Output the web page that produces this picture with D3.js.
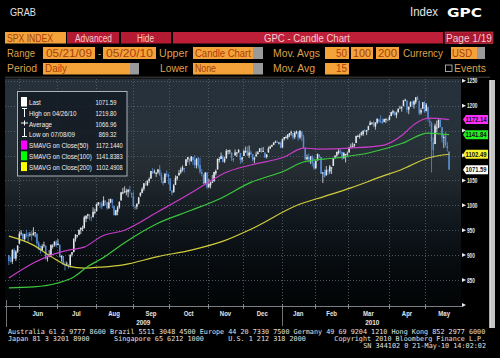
<!DOCTYPE html>
<html><head><meta charset="utf-8">
<script src="https://cdn.jsdelivr.net/npm/d3@7"></script>
<style>html,body{margin:0;padding:0;background:#000;}svg{display:block}</style>
</head><body>
<svg id="c" width="500" height="358"></svg>
<script>
// ---------------- DATA ----------------
const dates = [
"2009-05-21","2009-05-22","2009-05-26","2009-05-27","2009-05-28","2009-05-29",
"2009-06-01","2009-06-02","2009-06-03","2009-06-04","2009-06-05","2009-06-08","2009-06-09","2009-06-10","2009-06-11","2009-06-12","2009-06-15","2009-06-16","2009-06-17","2009-06-18","2009-06-19","2009-06-22","2009-06-23","2009-06-24","2009-06-25","2009-06-26","2009-06-29","2009-06-30",
"2009-07-01","2009-07-02","2009-07-06","2009-07-07","2009-07-08","2009-07-09","2009-07-10","2009-07-13","2009-07-14","2009-07-15","2009-07-16","2009-07-17","2009-07-20","2009-07-21","2009-07-22","2009-07-23","2009-07-24","2009-07-27","2009-07-28","2009-07-29","2009-07-30","2009-07-31",
"2009-08-03","2009-08-04","2009-08-05","2009-08-06","2009-08-07","2009-08-10","2009-08-11","2009-08-12","2009-08-13","2009-08-14","2009-08-17","2009-08-18","2009-08-19","2009-08-20","2009-08-21","2009-08-24","2009-08-25","2009-08-26","2009-08-27","2009-08-28","2009-08-31",
"2009-09-01","2009-09-02","2009-09-03","2009-09-04","2009-09-08","2009-09-09","2009-09-10","2009-09-11","2009-09-14","2009-09-15","2009-09-16","2009-09-17","2009-09-18","2009-09-21","2009-09-22","2009-09-23","2009-09-24","2009-09-25","2009-09-28","2009-09-29","2009-09-30",
"2009-10-01","2009-10-02","2009-10-05","2009-10-06","2009-10-07","2009-10-08","2009-10-09","2009-10-12","2009-10-13","2009-10-14","2009-10-15","2009-10-16","2009-10-19","2009-10-20","2009-10-21","2009-10-22","2009-10-23","2009-10-26","2009-10-27","2009-10-28","2009-10-29","2009-10-30",
"2009-11-02","2009-11-03","2009-11-04","2009-11-05","2009-11-06","2009-11-09","2009-11-10","2009-11-11","2009-11-12","2009-11-13","2009-11-16","2009-11-17","2009-11-18","2009-11-19","2009-11-20","2009-11-23","2009-11-24","2009-11-25","2009-11-27","2009-11-30",
"2009-12-01","2009-12-02","2009-12-03","2009-12-04","2009-12-07","2009-12-08","2009-12-09","2009-12-10","2009-12-11","2009-12-14","2009-12-15","2009-12-16","2009-12-17","2009-12-18","2009-12-21","2009-12-22","2009-12-23","2009-12-24","2009-12-28","2009-12-29","2009-12-30","2009-12-31",
"2010-01-04","2010-01-05","2010-01-06","2010-01-07","2010-01-08","2010-01-11","2010-01-12","2010-01-13","2010-01-14","2010-01-15","2010-01-19","2010-01-20","2010-01-21","2010-01-22","2010-01-25","2010-01-26","2010-01-27","2010-01-28","2010-01-29",
"2010-02-01","2010-02-02","2010-02-03","2010-02-04","2010-02-05","2010-02-08","2010-02-09","2010-02-10","2010-02-11","2010-02-12","2010-02-16","2010-02-17","2010-02-18","2010-02-19","2010-02-22","2010-02-23","2010-02-24","2010-02-25","2010-02-26",
"2010-03-01","2010-03-02","2010-03-03","2010-03-04","2010-03-05","2010-03-08","2010-03-09","2010-03-10","2010-03-11","2010-03-12","2010-03-15","2010-03-16","2010-03-17","2010-03-18","2010-03-19","2010-03-22","2010-03-23","2010-03-24","2010-03-25","2010-03-26","2010-03-29","2010-03-30","2010-03-31",
"2010-04-01","2010-04-05","2010-04-06","2010-04-07","2010-04-08","2010-04-09","2010-04-12","2010-04-13","2010-04-14","2010-04-15","2010-04-16","2010-04-19","2010-04-20","2010-04-21","2010-04-22","2010-04-23","2010-04-26","2010-04-27","2010-04-28","2010-04-29","2010-04-30",
"2010-05-03","2010-05-04","2010-05-05","2010-05-06","2010-05-07","2010-05-10","2010-05-11","2010-05-12","2010-05-13","2010-05-14","2010-05-17","2010-05-18","2010-05-19","2010-05-20"
];
const opens = [
900,889,887,910,893,907,923,943,943,932, 943,940,940,942,940,944,943,924,912,910,
920,919,894,896,900,918,920,927,920,921, 895,898,881,881,880,880,901,906,932,940,
941,951,953,954,973,979,981,977,976,986, 988,1002,1005,1003,999,1009,1006,994,1006,1012,
999,980,987,996,1010,1026,1026,1027,1027,1031, 1025,1019,997,997,1003,1019,1025,1033,1044,1040,
1049,1054,1067,1067,1065,1066,1072,1061,1049,1045, 1063,1061,1054,1029,1027,1041,1054,1060,1066,1071,
1075,1079,1092,1094,1089,1097,1091,1080,1096,1081, 1067,1061,1044,1066,1037,1040,1047,1048,1064,1072,
1093,1093,1098,1088,1094,1109,1109,1106,1094,1100, 1105,1106,1105,1092,1099,1109,1110,1100,1106,1103,
1092,1098,1103,1107,1115,1109,1106,1097,1106,1114, 1118,1121,1127,1128,1125,1126,1116,1133,1136,1136,
1141,1146,1145,1137,1146,1148,1136,1148,1138,1115, 1092,1096,1092,1098,1085,1074,1090,1101,1097,1065,
1066,1060,1070,1068,1075,1079,1096,1100,1105,1110, 1107,1095,1102,1104,1106,1116,1118,1120,1125,1139,
1138,1141,1143,1151,1148,1151,1161,1166,1166,1158, 1166,1172,1169,1168,1167,1172,1171,1171,1179,1186,
1188,1181,1187,1195,1195,1199,1211,1210,1192,1198, 1207,1202,1207,1217,1209,1186,1194,1207,1189,1197,
1169,1164,1127,1123,1156,1156,1171,1157,1136,1139, 1119,1108
];
const highs = [
900,897,912,914,910,920,948,950,943,943, 951,946,946,949,956,946,943,928,919,922,
927,919,897,910,922,922,928,930,932,921, 899,898,887,887,882,901,906,933,942,941,
951,955,959,979,980,983,982,977,996,993, 1003,1006,1006,1008,1018,1010,1006,1013,1013,1012,
999,991,999,1008,1027,1035,1038,1033,1033,1039, 1025,1028,1000,1004,1017,1026,1036,1045,1049,1050,
1056,1069,1075,1072,1067,1073,1081,1066,1056,1065, 1070,1064,1054,1031,1043,1060,1059,1071,1076,1080,
1075,1093,1097,1094,1099,1098,1101,1095,1096,1095, 1073,1063,1066,1066,1053,1047,1061,1067,1072,1094,
1097,1106,1101,1097,1113,1111,1112,1106,1095,1112, 1107,1113,1105,1097,1112,1118,1118,1120,1110,1103,
1096,1108,1109,1115,1116,1117,1106,1103,1118,1120, 1122,1127,1130,1130,1127,1128,1134,1137,1140,1143,
1145,1150,1145,1149,1150,1148,1150,1148,1142,1116, 1102,1104,1099,1101,1096,1090,1104,1103,1097,1067,
1072,1079,1073,1081,1077,1095,1100,1108,1113,1112, 1108,1107,1103,1108,1117,1124,1126,1124,1140,1142,
1144,1148,1150,1153,1151,1160,1170,1167,1170,1167, 1174,1174,1181,1174,1174,1175,1174,1181,1188,1192,
1189,1188,1194,1200,1199,1211,1214,1211,1198,1209, 1210,1211,1217,1220,1211,1195,1207,1209,1205,1197,
1175,1168,1136,1164,1170,1172,1174,1157,1141,1148, 1127,1108
];
const lows = [
880,885,882,892,888,904,923,939,929,927, 935,926,937,929,939,936,919,910,903,908,
915,891,887,896,897,913,917,916,920,896, 887,880,869,878,873,875,897,906,927,935,
940,942,948,954,966,973,970,968,976,982, 988,999,994,992,999,1000,991,993,1004,994,
980,980,980,993,1009,1022,1025,1020,1016,1024, 1015,996,991,992,1002,1017,1024,1029,1039,1039,
1045,1053,1063,1064,1057,1063,1059,1045,1040,1045, 1057,1042,1029,1020,1025,1041,1050,1060,1063,1068,
1066,1079,1086,1081,1087,1081,1075,1074,1074,1063, 1058,1042,1044,1033,1034,1034,1045,1048,1060,1072,
1086,1093,1086,1085,1094,1102,1103,1089,1087,1100, 1097,1106,1083,1086,1099,1105,1099,1095,1101,1088,
1085,1098,1102,1107,1105,1107,1095,1094,1106,1113, 1117,1121,1125,1126,1122,1115,1116,1130,1134,1132,
1137,1140,1132,1133,1143,1130,1133,1129,1114,1090, 1092,1086,1083,1078,1071,1074,1090,1095,1063,1045,
1056,1060,1061,1063,1063,1079,1093,1097,1102,1103, 1091,1093,1086,1098,1106,1116,1116,1116,1125,1137,
1134,1140,1139,1147,1141,1151,1161,1162,1157,1152, 1163,1166,1166,1163,1167,1165,1169,1171,1179,1182,
1179,1175,1186,1195,1188,1199,1209,1186,1183,1198, 1197,1194,1203,1211,1181,1182,1194,1186,1189,1168,
1158,1066,1095,1123,1146,1155,1157,1126,1115,1118, 1108,1071
];
const closes = [
888,887,910,893,907,919,943,945,932,942, 940,939,942,939,945,946,924,912,911,918,
921,893,895,901,920,919,927,919,923,896, 899,881,880,883,879,901,906,933,941,940,
951,955,954,976,979,982,980,975,987,987, 1003,1006,1003,997,1010,1007,994,1006,1013,1004,
980,990,996,1007,1026,1026,1028,1028,1031,1029, 1021,998,995,1003,1016,1025,1033,1044,1043,1049,
1053,1069,1065,1068,1065,1072,1061,1051,1044,1063, 1061,1057,1030,1025,1040,1055,1058,1065,1071,1076,
1073,1092,1097,1088,1098,1091,1081,1093,1080,1067, 1063,1043,1066,1036,1043,1045,1047,1067,1069,1093,
1093,1099,1087,1093,1109,1110,1110,1095,1091,1106, 1106,1111,1091,1096,1109,1109,1100,1106,1103,1092,
1096,1102,1106,1114,1108,1109,1096,1102,1114,1118, 1121,1126,1128,1126,1126,1115,1133,1137,1137,1142,
1145,1147,1136,1146,1148,1136,1150,1138,1116,1092, 1097,1092,1098,1085,1074,1089,1103,1097,1063,1066,
1057,1071,1068,1078,1076,1095,1100,1107,1109,1108, 1095,1105,1103,1104,1116,1118,1119,1123,1139,1139,
1140,1146,1150,1150,1151,1159,1166,1166,1160,1166, 1174,1168,1166,1167,1173,1173,1169,1178,1187,1189,
1182,1186,1194,1196,1197,1211,1212,1192,1198,1207, 1206,1209,1217,1212,1184,1191,1207,1187,1202,1174,
1166,1128,1111,1160,1156,1172,1157,1136,1137,1121, 1115,1071.59
];

// moving averages at sample dates
const sma50Dates  = ["2009-05-21","2009-06-11","2009-06-25","2009-07-10","2009-07-23","2009-08-06","2009-08-25","2009-09-22","2009-10-19","2009-11-02","2009-11-13","2009-12-07","2010-01-05","2010-01-21","2010-02-02","2010-03-02","2010-03-29","2010-04-13","2010-04-22","2010-05-04","2010-05-20"];
const sma50Values = [854,884,900,910,916,938,950,987,1025,1047,1065,1081,1097,1115,1113,1115,1121,1140,1162,1175,1172.144];
const sma100Dates  = ["2009-05-21","2009-06-11","2009-07-01","2009-07-15","2009-07-27","2009-08-06","2009-08-25","2009-09-22","2009-10-19","2009-11-09","2009-12-07","2010-01-05","2010-01-21","2010-02-17","2010-03-16","2010-04-13","2010-05-04","2010-05-20"];
const sma100Values = [834,836,844,856,877,893,925,964,990,1011,1046,1069,1087,1095,1105,1124,1145,1141.8383];
const sma200Dates  = ["2009-05-21","2009-06-11","2009-06-25","2009-07-10","2009-07-23","2009-08-06","2009-08-25","2009-09-22","2009-10-19","2009-11-13","2009-12-07","2010-01-15","2010-02-08","2010-03-02","2010-03-25","2010-04-13","2010-05-04","2010-05-20"];
const sma200Values = [938,920,897,878,874,876,881,897,910,929,952,1001,1018,1035,1057,1072,1095,1102.4908];

const monthLabels = ["Jun","Jul","Aug","Sep","Oct","Nov","Dec","Jan","Feb","Mar","Apr","May"];
const yearLabels = ["2009","2010"];
const yTickValues = [800,850,900,950,1000,1050,1100,1150,1200,1250];
const yTickLabels = ["","850","900","950","1000","1050","1100","1150","1200","1250"];

const legendLabels = ["Last","High on 04/26/10","Average","Low on 07/08/09","SMAVG on Close(50)","SMAVG on Close(100)","SMAVG on Close(200)"];
const legendValues = ["1071.59","1219.80","1066.96","869.32","1172.1440","1141.8383","1102.4908"];
const tagValues = [1172.144, 1141.8383, 1102.4908, 1071.59];

// ---------------- DRAWING ----------------
const svg = d3.select("#c");
svg.append("rect").attr("width",500).attr("height",358).attr("fill","#000");
const defs = svg.append("defs");
const grad = defs.append("linearGradient").attr("id","bg").attr("x1",0).attr("y1",0).attr("x2",0).attr("y2",1);
[[0,"#25303a"],[0.25,"#28323b"],[0.4,"#252d32"],[0.6,"#121a20"],[0.82,"#070b0e"],[1,"#020405"]]
  .forEach(s=>grad.append("stop").attr("offset",s[0]).attr("stop-color",s[1]));

function T(sel, x, y, str, o={}) {
  const t = sel.append("text").text(str)
    .attr("font-family", o.f || "'Liberation Sans', Arial, sans-serif")
    .attr("font-size", o.s || 10)
    .attr("font-weight", o.w || "normal")
    .attr("fill", o.c || "#fff")
    .attr("text-anchor", o.a || "start");
  if (o.pre) t.style("white-space","pre");
  let sx = o.sx || 1;
  if (o.fit) {
    const len = t.node().getComputedTextLength();
    if (len > 0) sx = o.fit / len;
  }
  t.attr("transform", `translate(${x},${y}) scale(${sx},1)`);
  return t;
}
function R(sel, x, y, w, h, fill, o={}) {
  return sel.append("rect").attr("x",x).attr("y",y).attr("width",w).attr("height",h)
    .attr("fill",fill).attr("stroke",o.stroke||"none").attr("stroke-width",o.sw||1).attr("rx",o.rx||0);
}

// ---- header ----
const hdr = svg.append("g");
T(hdr, 10, 16, "GRAB", {s:10.5, c:"#e4e4e4", fit:26});
T(hdr, 410, 16, "Index", {s:12, c:"#e4e4e4", fit:28});
T(hdr, 447, 16.5, "GPC", {s:12.5, c:"#ffffff", w:"bold", f:"'DejaVu Sans', sans-serif", fit:35});

const ORANGE = "#f4a33a", BOXTXT = "#a8400c", LBL = "#dea04a", RED = "#b51a33", REDTXT = "#f4cdd0", GREY = "#9a9a9a";
// row 1
R(hdr, 5, 32, 61, 11.5, ORANGE);
T(hdr, 7, 41.5, "SPX INDEX", {s:11, c:BOXTXT, fit:46});
R(hdr, 67, 32, 52, 11.5, RED);
T(hdr, 75, 41.5, "Advanced", {s:11, c:REDTXT, fit:37});
R(hdr, 121, 32, 50, 11.5, RED);
T(hdr, 137, 41.5, "Hide", {s:11, c:REDTXT, fit:17});
R(hdr, 173, 32, 270, 11.5, "#bd1e38");
T(hdr, 264, 41.5, "GPC - Candle Chart", {s:11, c:REDTXT, fit:86});
R(hdr, 445, 32, 48, 11.5, "#a8182f", {stroke:"#d04050", sw:0.6});
T(hdr, 446, 41.5, "Page 1/19", {s:11, c:REDTXT, fit:46});
// row 2
T(hdr, 7, 56.5, "Range", {s:11, c:LBL, fit:28});
R(hdr, 43, 47, 52, 12, ORANGE);
T(hdr, 46, 56.5, "05/21/09", {s:11, c:BOXTXT, fit:46});
T(hdr, 98, 56.5, "-", {s:11, c:LBL, fit:3});
R(hdr, 103, 47, 53, 12, ORANGE);
T(hdr, 106, 56.5, "05/20/10", {s:11, c:BOXTXT, fit:47});
T(hdr, 159, 56.5, "Upper", {s:11, c:LBL, fit:29});
R(hdr, 193, 47, 60, 12, ORANGE);
R(hdr, 253, 47, 10, 12, GREY);
T(hdr, 195, 56.5, "Candle Chart", {s:11, c:BOXTXT, fit:56});
T(hdr, 273, 56.5, "Mov. Avgs", {s:11, c:LBL, fit:47});
R(hdr, 325, 47, 24, 12, ORANGE);
T(hdr, 336, 56.5, "50", {s:11, c:BOXTXT, fit:11});
R(hdr, 351, 47, 22, 12, ORANGE);
T(hdr, 353, 56.5, "100", {s:11, c:BOXTXT, fit:18});
R(hdr, 376, 47, 23, 12, ORANGE);
T(hdr, 378, 56.5, "200", {s:11, c:BOXTXT, fit:19});
T(hdr, 403, 56.5, "Currency", {s:11, c:LBL, fit:40});
R(hdr, 451, 47, 26, 12, ORANGE);
R(hdr, 477, 47, 8, 12, GREY);
T(hdr, 452, 56.5, "USD", {s:11, c:BOXTXT, fit:20});
// row 3
T(hdr, 7, 72, "Period", {s:11, c:LBL, fit:30});
R(hdr, 43, 63, 87, 11.5, ORANGE);
R(hdr, 130, 63, 9, 11.5, GREY);
T(hdr, 45, 72, "Daily", {s:11, c:BOXTXT, fit:22});
T(hdr, 160, 72, "Lower", {s:11, c:LBL, fit:28});
R(hdr, 193, 63, 60, 11.5, ORANGE);
R(hdr, 253, 63, 10, 11.5, GREY);
T(hdr, 195, 72, "None", {s:11, c:BOXTXT, fit:21});
T(hdr, 273, 72, "Mov. Avg", {s:11, c:LBL, fit:42});
R(hdr, 325, 63, 24, 11.5, ORANGE);
T(hdr, 336, 72, "15", {s:11, c:BOXTXT, fit:11});
R(hdr, 445.5, 65, 6.5, 6.5, "none", {stroke:"#c8c8c8", sw:0.8});
T(hdr, 454, 72, "Events", {s:11, c:LBL, fit:32});
svg.append("line").attr("x1",5).attr("x2",490).attr("y1",77.5).attr("y2",77.5).attr("stroke","#2c2c2c").attr("stroke-width",2);

// ---- chart ----
const P = {l:5, r:461, t:79, b:306};
const x = d3.scaleLinear().domain([-2.2, 257.8]).range([P.l, P.r]);
const y = d3.scaleLinear().domain([800, 1250]).range([304.9, 80.8]);
const step = x(1) - x(0);
const idx = d => dates.indexOf(d);

R(svg, P.l, P.t, P.r - P.l, P.b - P.t, "url(#bg)");

// month boundaries
const monthStarts = [];
dates.forEach((d,i) => { if (i>0 && d.slice(0,7) !== dates[i-1].slice(0,7)) monthStarts.push(i); });
const yearStarts = [];
dates.forEach((d,i) => { if (i>0 && d.slice(0,4) !== dates[i-1].slice(0,4)) yearStarts.push(i); });

const grid = svg.append("g").attr("stroke","#5c6670").attr("stroke-width",0.8).attr("stroke-dasharray","1,2");
yTickValues.filter(v=>v>800).forEach(v => grid.append("line").attr("x1",P.l).attr("x2",P.r).attr("y1",Math.round(y(v))+0.5).attr("y2",Math.round(y(v))+0.5));
monthStarts.forEach(i => { const xx = Math.round(x(i-0.5))+0.5; grid.append("line").attr("x1",xx).attr("x2",xx).attr("y1",P.t).attr("y2",P.b); });

// candles
const cg = svg.append("g");
const UP = "#e3e9f0", DN = "#5a8fd6";
closes.forEach((c,i) => {
  const o = opens[i], col = c >= o ? UP : DN, cx = x(i);
  cg.append("line").attr("x1",cx).attr("x2",cx).attr("y1",y(highs[i])).attr("y2",y(lows[i])).attr("stroke",col).attr("stroke-width",0.8);
  const top = y(Math.max(o,c)), h = Math.max(1, Math.abs(y(o)-y(c)));
  cg.append("rect").attr("x",cx-0.75).attr("width",1.5).attr("y",top).attr("height",h).attr("fill",col);
});

// moving averages
const line = d3.line().x(d=>x(idx(d[0]))).y(d=>y(d[1])).curve(d3.curveMonotoneX);
const maSeries = [
  [sma200Dates, sma200Values, "#d0cc3c"],
  [sma100Dates, sma100Values, "#3cc83c"],
  [sma50Dates,  sma50Values,  "#c83cc8"]
];
maSeries.forEach(([ds, vs, col]) => {
  svg.append("path").datum(ds.map((d,k)=>[d, vs[k]])).attr("d", line)
    .attr("fill","none").attr("stroke",col).attr("stroke-width",1.2);
});

// ---- right axis ----
const ax = svg.append("g");
R(ax, P.r, P.t-1, 29, P.b - P.t + 2, "#000");
yTickValues.forEach((v,k) => {
  const yy = y(v);
  ax.append("path").attr("d",`M${P.r+1},${yy-2}L${P.r+5},${yy}L${P.r+1},${yy+2}Z`).attr("fill","#e8e8e8");
  const lbl = yTickLabels[k];
  const near = tagValues.some(t => Math.abs(y(t) - yy) < 7);
  if (lbl && !near) T(ax, P.r+6, yy+2.6, lbl, {s:7.5, w:"bold", c:"#e8e8e8", fit: lbl.length*2.6});
});
// value tags
const tagColors = ["#ff30ff","#22ee22","#f4f030","#ffffff"];
tagValues.forEach((v,k) => {
  const yy = y(v);
  ax.append("path").attr("d",`M${P.r+2},${yy}L${P.r+5},${yy-4.5}L${P.r+27},${yy-4.5}L${P.r+27},${yy+4.5}L${P.r+5},${yy+4.5}Z`).attr("fill",tagColors[k]);
  T(ax, P.r+4.5, yy+2.8, v.toFixed(2), {s:8, w:"bold", c:"#111", fit:21});
});

// scrollbar
R(svg, 489.5, 80, 5.5, 248, "#c4c4c4");
R(svg, 489.5, 80, 1, 248, "#eee");

// ---- bottom axis ----
const bx = svg.append("g");
bx.append("line").attr("x1",P.l).attr("x2",P.r+1).attr("y1",306.5).attr("y2",306.5).attr("stroke","#9aa0a6").attr("stroke-width",0.8);
bx.append("line").attr("x1",6.5).attr("x2",6.5).attr("y1",300).attr("y2",327).attr("stroke","#8a9096").attr("stroke-width",0.8);
monthStarts.forEach(i => {
  const xx = Math.round(x(i-0.5))+0.5;
  bx.append("line").attr("x1",xx).attr("x2",xx).attr("y1",304).attr("y2",309).attr("stroke","#9aa0a6").attr("stroke-width",0.8);
});
yearStarts.forEach(i => {
  const xx = Math.round(x(i-0.5))+0.5;
  bx.append("line").attr("x1",xx).attr("x2",xx).attr("y1",306).attr("y2",326).attr("stroke","#8a9096").attr("stroke-width",0.8);
});
monthStarts.forEach((s,k) => {
  const e = k+1 < monthStarts.length ? x(monthStarts[k+1]-0.5) : P.r + 2;
  const cx = (x(s-0.5) + e) / 2;
  T(bx, cx, 315.5, monthLabels[k], {s:7.5, w:"bold", c:"#e6e6e6", a:"middle", sx:0.8});
});
const yb = [ -2.2 ].concat(yearStarts.map(i=>i-0.5));
yearLabels.forEach((lab,k) => {
  const a = x(yb[k]) , b = k+1 < yb.length ? x(yb[k+1]) : P.r + 2;
  T(bx, (a+b)/2, 324.5, lab, {s:7.5, w:"bold", c:"#e6e6e6", a:"middle", sx:0.85});
});

// ---- legend ----
const lg = svg.append("g");
R(lg, 17.5, 91.5, 109.5, 84.5, "rgba(18,26,34,0.82)", {stroke:"#a8b0b8", sw:1});
const rowY = k => 102 + k*10.75;
R(lg, 21, 97, 6, 9.5, "#ffffff");
lg.append("path").attr("d","M22,108.5H27M24.5,108.5V117").attr("stroke","#fff").attr("stroke-width",1).attr("fill","none");
lg.append("path").attr("d","M21,123H28M24.5,120.5V125.5").attr("stroke","#fff").attr("stroke-width",1).attr("fill","none");
lg.append("path").attr("d","M24.5,128V136.5M22,136.5H27").attr("stroke","#fff").attr("stroke-width",1).attr("fill","none");
["#ff00ff","#00ff00","#ffff00"].forEach((c,k) => R(lg, 21, 140.5 + k*10.8, 6, 9, c));
legendLabels.forEach((lab,k) => {
  T(lg, 29, rowY(k)+3, lab, {s:8, c:"#f0f0f0", sx:0.78});
});
legendValues.forEach((v,k) => {
  const dec = v.split(".")[1].length;
  T(lg, 107 + (dec+1)*3.15, rowY(k)+3, v, {s:8, c:"#f0f0f0", a:"end", sx:0.72});
});

// ---- footer ----
const ft = svg.append("g");
const MONO = "'DejaVu Sans Mono', monospace";
T(ft, 8, 333.5, "Australia 61 2 9777 8600 Brazil 5511 3048 4500 Europe 44 20 7330 7500 Germany 49 69 9204 1210 Hong Kong 852 2977 6000", {s:6.8, c:"#e0e0e0", f:MONO, pre:true, fit:478});
T(ft, 8, 340.5, "Japan 81 3 3201 8900      Singapore 65 6212 1000      U.S. 1 212 318 2000       Copyright 2010 Bloomberg Finance L.P.", {s:6.8, c:"#e0e0e0", f:MONO, pre:true, fit:478});
T(ft, 486, 347.5, "SN 344102 0 21-May-10 14:02:02", {s:6.8, c:"#e0e0e0", f:MONO, a:"end", sx:1});
</script>
</body></html>
